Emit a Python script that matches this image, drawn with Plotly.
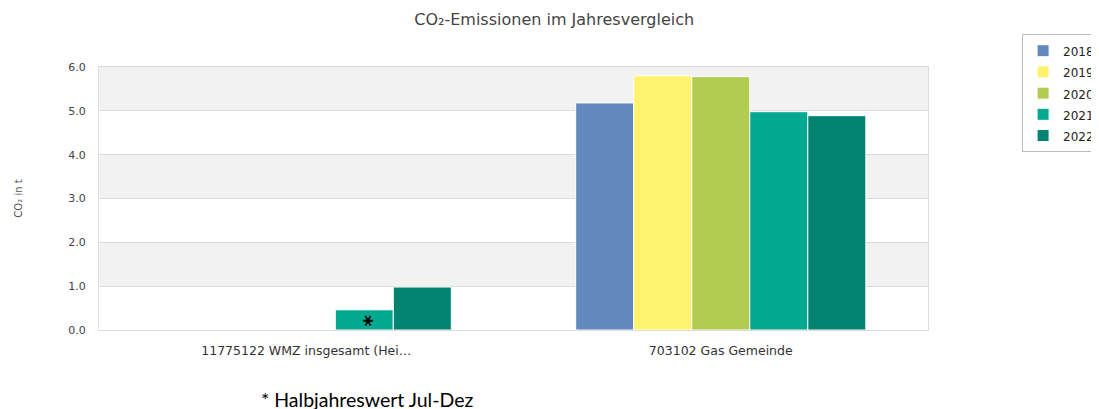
import plotly.graph_objects as go

# data
categories = ["11775122 WMZ insgesamt (Hei…", "703102 Gas Gemeinde"]
years = ["2018", "2019", "2020", "2021", "2022"]
values = {
    "2018": [None, 5.18],
    "2019": [None, 5.80],
    "2020": [None, 5.78],
    "2021": [0.46, 4.98],
    "2022": [0.98, 4.89],
}
bar_notes = {"2021": ["<b>*</b>", ""]}
colors = ["#6388be", "#fff36e", "#b2cc52", "#00a990", "#008471"]

fig = go.Figure()
for yr, col in zip(years, colors):
    fig.add_trace(go.Bar(
        x=categories, y=values[yr], name=f"<span style='font-size:12px'>{yr}</span>",
        marker=dict(color=col, line=dict(color="white", width=1)),
        text=bar_notes.get(yr), textposition="inside", insidetextanchor="start",
        textfont=dict(size=22, color="black", family="DejaVu Sans"),
        hovertemplate=yr + ": %{y:.2f}<extra></extra>",
    ))

# alternating grey bands
for lo in [1, 3, 5]:
    fig.add_shape(type="rect", xref="paper", yref="y", x0=0, x1=1, y0=lo, y1=lo + 1,
                  fillcolor="#f2f2f2", line_width=0, layer="below")

fig.update_layout(
    width=1099, height=409,
    margin=dict(l=91, r=179, t=59, b=87, autoexpand=False),
    paper_bgcolor="white", plot_bgcolor="white",
    font=dict(family="DejaVu Sans", size=11, color="#444"),
    title=dict(text="CO₂-Emissionen im Jahresvergleich", x=0.497, xanchor="center",
               xref="container", yref="container",
               y=0.973, yanchor="middle", font=dict(size=16, color="#444")),
    barmode="group", bargap=0.30, bargroupgap=0,
    showlegend=True,
    legend=dict(x=1.1135, xanchor="left", y=1.125, yanchor="top",
                bgcolor="white", bordercolor="#bbbbbb", borderwidth=1,
                font=dict(size=14, color="#222"), tracegroupgap=0),
    annotations=[dict(text="* Halbjahreswert Jul-Dez", xref="paper", yref="paper",
                      x=0.1925, y=-0.263, xanchor="left", yanchor="middle", showarrow=False,
                      font=dict(family="Lato", size=19.5, color="black"))],
)
fig.update_xaxes(showline=True, linecolor="#dddddd", mirror=True, ticks="",
                 ticklabelstandoff=9,
                 tickfont=dict(size=12.5, color="#333"), showgrid=False)
fig.update_yaxes(range=[0, 6], dtick=1, tickformat=".1f", showgrid=True, gridcolor="#dddddd",
                 zeroline=False, showline=True, linecolor="#dddddd", mirror=True,
                 ticks="", ticklen=0, ticklabelstandoff=10, tickfont=dict(size=11, color="#444"),
                 title=dict(text="CO₂ in t", font=dict(size=10, color="#555"), standoff=43))

fig.write_html("out.html")
